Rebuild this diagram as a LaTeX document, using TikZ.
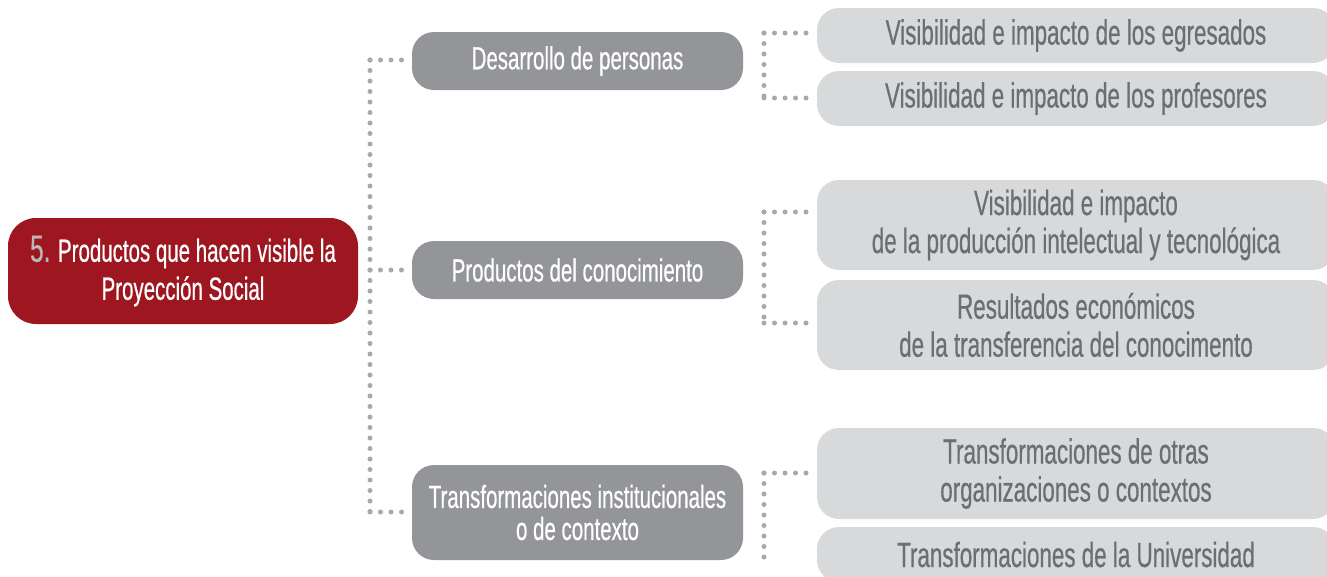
\documentclass[tikz,border=0pt]{standalone}
\usepackage{fontspec}
\setmainfont{Liberation Sans}[FakeStretch=0.64, FakeBold=0.5]
\definecolor{rootred}{HTML}{9D1620}
\definecolor{midgray}{HTML}{939598}
\definecolor{lightbox}{HTML}{D8D9DA}
\definecolor{lighttext}{HTML}{6D6E71}
\definecolor{dotc}{HTML}{A7A9AC}
\definecolor{numgray}{HTML}{B8B8B8}
\tikzset{
  rootbox/.style={fill=rootred, text=white, rounded corners=28pt, minimum width=350pt, minimum height=106pt, align=center, inner sep=0pt, font=\fontsize{32}{38}\selectfont},
  midbox/.style={fill=midgray, text=white, rounded corners=22pt, minimum width=331pt, align=center, inner sep=0pt, font=\fontsize{32}{32}\selectfont},
  rightbox/.style={fill=lightbox, text=lighttext, rounded corners=22pt, minimum width=518pt, align=center, inner sep=0pt, font=\fontsize{35}{38}\selectfont},
  dots/.style={draw=dotc, line width=5pt, line cap=round, dash pattern=on 0pt off 10.5pt}
}
\begin{document}
\begin{tikzpicture}[x=1pt,y=-1pt]
\clip (0,0) rectangle (1327,576);
\fill[white] (0,0) rectangle (1327,576);
% root
\node[rootbox] (root) at (183,271) {{\fontsize{38}{38}\selectfont\color{numgray}5.} Productos que hacen visible la\\Proyección Social};
% middle
\node[midbox, minimum height=58pt] (m1) at (577.5,61) {Desarrollo de personas};
\node[midbox, minimum height=58pt] (m2) at (577.5,270) {Productos del conocimiento};
\node[midbox, minimum height=95pt] (m3) at (577.5,512.5) {Transformaciones institucionales\\o de contexto};
% right
\node[rightbox, minimum height=55pt] (r1) at (1076,35.5) {Visibilidad e impacto de los egresados};
\node[rightbox, minimum height=55pt] (r2) at (1076,98.5) {Visibilidad e impacto de los profesores};
\node[rightbox, minimum height=90pt] (r3) at (1076,225) {Visibilidad e impacto\\de la producción intelectual y tecnológica};
\node[rightbox, minimum height=90pt] (r4) at (1076,325) {Resultados económicos\\de la transferencia del conocimento};
\node[rightbox, minimum height=91pt] (r5) at (1076,473.5) {Transformaciones de otras\\organizaciones o contextos};
\node[rightbox, minimum height=55pt] (r6) at (1076,554.5) {Transformaciones de la Universidad};
% left tree connectors
\coordinate (LT) at (370,60);
\coordinate (LB) at (370,512);
\coordinate (LM) at (370,270);
\draw[dots] (LT) -- (LB);
\draw[dots] (LT) -- ([xshift=-9pt]m1.west |- LT);
\draw[dots] (LM) -- ([xshift=-9pt]m2.west |- LM);
\draw[dots] (LB) -- ([xshift=-9pt]m3.west |- LB);
% right group 1
\coordinate (A1) at (764,33);
\coordinate (A2) at (764,98);
\draw[dots] (A1) -- (A2);
\draw[dots] (A1) -- ([xshift=-10pt]r1.west |- A1);
\draw[dots] (A2) -- ([xshift=-10pt]r2.west |- A2);
% right group 2
\coordinate (B1) at (764,212);
\coordinate (B2) at (764,323);
\draw[dots] (B1) -- (B2);
\draw[dots] (B1) -- ([xshift=-10pt]r3.west |- B1);
\draw[dots] (B2) -- ([xshift=-10pt]r4.west |- B2);
% right group 3
\coordinate (C1) at (764,473);
\coordinate (C2) at (764,557);
\draw[dots] (C1) -- (C2);
\draw[dots] (C1) -- ([xshift=-10pt]r5.west |- C1);
\end{tikzpicture}
\end{document}
